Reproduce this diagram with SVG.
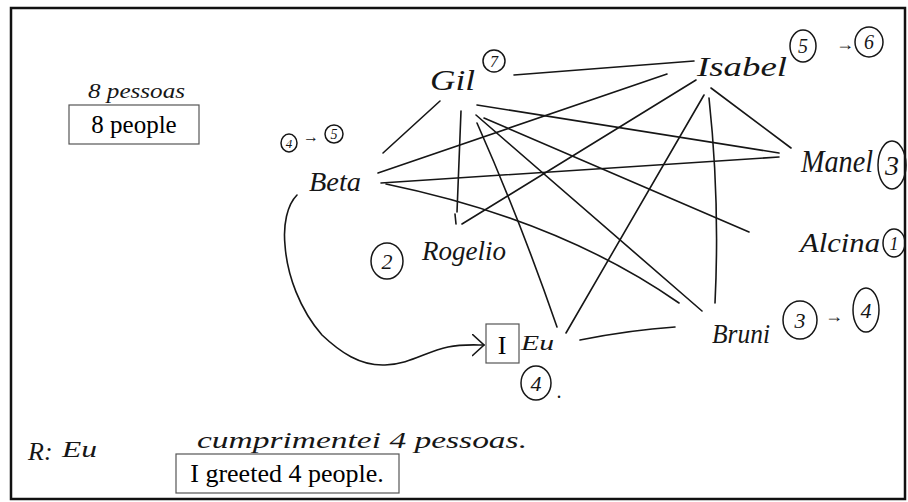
<svg xmlns="http://www.w3.org/2000/svg" width="908" height="502" viewBox="0 0 908 502">
<style>
.hand{font-family:"Liberation Serif","DejaVu Serif",serif;font-style:italic;fill:#161616}
.num{font-family:"Liberation Serif","DejaVu Serif",serif;font-style:italic;fill:#161616;text-anchor:middle}
.typed{font-family:"Liberation Serif","Times New Roman",serif;fill:#000;text-anchor:middle}
.circ{fill:none;stroke:#161616;stroke-width:1.5}
.box{fill:#fff;stroke:#555;stroke-width:1.2}
.c{fill:none;stroke:#161616;stroke-width:1.6;stroke-linecap:round}
</style>
<defs>
<marker id="open" markerUnits="userSpaceOnUse" markerWidth="16" markerHeight="24" refX="12" refY="11" orient="auto">
<path d="M0,0 L12,11 L0,22" fill="none" stroke="#161616" stroke-width="1.6"/>
</marker>
</defs>
<rect x="0" y="0" width="908" height="502" fill="#fff"/>
<rect x="11" y="8" width="894" height="491" fill="none" stroke="#111" stroke-width="2.5"/>

<g id="connectors">
<path class="c" d="M383,153 L440,101"/>
<path class="c" d="M378,173 L667,74"/>
<path class="c" d="M381,183 L779,157"/>
<path class="c" d="M386,184 Q560,220 679,303"/>
<path class="c" d="M461,111 L457,212 M455,214 L456,224"/>
<path class="c" d="M514,75 L694,61"/>
<path class="c" d="M477,105 L779,153"/>
<path class="c" d="M476,115 L702,311"/>
<path class="c" d="M484,118 L749,232"/>
<path class="c" d="M477,123 Q520,220 557,327"/>
<path class="c" d="M696,80 L462,224"/>
<path class="c" d="M704,95 L566,333"/>
<path class="c" d="M709,98 Q720,200 715,303"/>
<path class="c" d="M711,88 L791,148"/>
<path class="c" d="M580,340 Q630,330 675,327"/>
<path class="c" d="M297,195 C287,205 283,225 285,245 C287,275 300,310 322,335 C340,352 360,366 385,365 C410,364 425,352 448,347 C462,344 475,345 484,345" marker-end="url(#open)"/>
</g>

<g id="title">
<text class="hand" x="88" y="98" font-size="22" textLength="97" lengthAdjust="spacingAndGlyphs">8 pessoas</text>
<rect class="box" x="69" y="105" width="130" height="39"/>
<text class="typed" x="134" y="133" font-size="25">8 people</text>
</g>

<g id="beta">
<ellipse class="circ" cx="289" cy="143" rx="8" ry="9"/>
<text class="num" x="289" y="148" font-size="13">4</text>
<text class="hand" x="303" y="142" font-size="16">→</text>
<ellipse class="circ" cx="334" cy="134" rx="9" ry="9"/>
<text class="num" x="334" y="139" font-size="14">5</text>
<text class="hand" x="309" y="191" font-size="28" textLength="52" lengthAdjust="spacingAndGlyphs">Beta</text>
</g>

<g id="gil">
<text class="hand" x="430" y="90" font-size="30" textLength="45" lengthAdjust="spacingAndGlyphs">Gil</text>
<ellipse class="circ" cx="494" cy="61" rx="11" ry="11"/>
<text class="num" x="494" y="67" font-size="16">7</text>
</g>

<g id="isabel">
<text class="hand" x="697" y="76" font-size="28" textLength="90" lengthAdjust="spacingAndGlyphs">Isabel</text>
<ellipse class="circ" cx="803" cy="46" rx="13" ry="16"/>
<text class="num" x="803" y="53" font-size="20">5</text>
<text class="hand" x="836" y="50" font-size="18">→</text>
<ellipse class="circ" cx="869" cy="42" rx="14" ry="15"/>
<text class="num" x="869" y="49" font-size="20">6</text>
</g>

<g id="manel">
<text class="hand" x="801" y="172" font-size="32" textLength="72" lengthAdjust="spacingAndGlyphs">Manel</text>
<ellipse class="circ" cx="892" cy="165" rx="14" ry="24"/>
<text class="num" x="892" y="175" font-size="28">3</text>
</g>

<g id="alcina">
<text class="hand" x="800" y="252" font-size="28" textLength="80" lengthAdjust="spacingAndGlyphs">Alcina</text>
<ellipse class="circ" cx="894" cy="243" rx="11" ry="14"/>
<text class="num" x="894" y="250" font-size="18">1</text>
</g>

<g id="rogelio">
<ellipse class="circ" cx="387" cy="261" rx="16" ry="18"/>
<text class="num" x="387" y="269" font-size="22">2</text>
<text class="hand" x="422" y="260" font-size="28" textLength="84" lengthAdjust="spacingAndGlyphs">Rogelio</text>
</g>

<g id="bruni">
<text class="hand" x="712" y="343" font-size="28" textLength="58" lengthAdjust="spacingAndGlyphs">Bruni</text>
<ellipse class="circ" cx="800" cy="320" rx="17" ry="19"/>
<text class="num" x="800" y="328" font-size="22">3</text>
<text class="hand" x="825" y="322" font-size="18">→</text>
<ellipse class="circ" cx="866" cy="310" rx="13" ry="22"/>
<text class="num" x="866" y="318" font-size="22">4</text>
</g>

<g id="eu">
<rect class="box" x="486" y="324" width="33" height="39"/>
<text class="typed" x="502" y="354" font-size="26">I</text>
<text class="hand" x="521" y="350" font-size="22" textLength="33" lengthAdjust="spacingAndGlyphs">Eu</text>
<ellipse class="circ" cx="536" cy="383" rx="15" ry="17"/>
<text class="num" x="536" y="391" font-size="22">4</text>
<text class="hand" x="557" y="398" font-size="20">.</text>
</g>

<g id="answer">
<text class="hand" x="28" y="460" font-size="26">R:</text>
<text class="hand" x="62" y="457" font-size="24" textLength="35" lengthAdjust="spacingAndGlyphs">Eu</text>
<text class="hand" x="197" y="448" font-size="24" textLength="330" lengthAdjust="spacingAndGlyphs">cumprimentei 4 pessoas.</text>
<rect class="box" x="176" y="454" width="223" height="39"/>
<text class="typed" x="287" y="482" font-size="26">I greeted 4 people.</text>
</g>
</svg>
